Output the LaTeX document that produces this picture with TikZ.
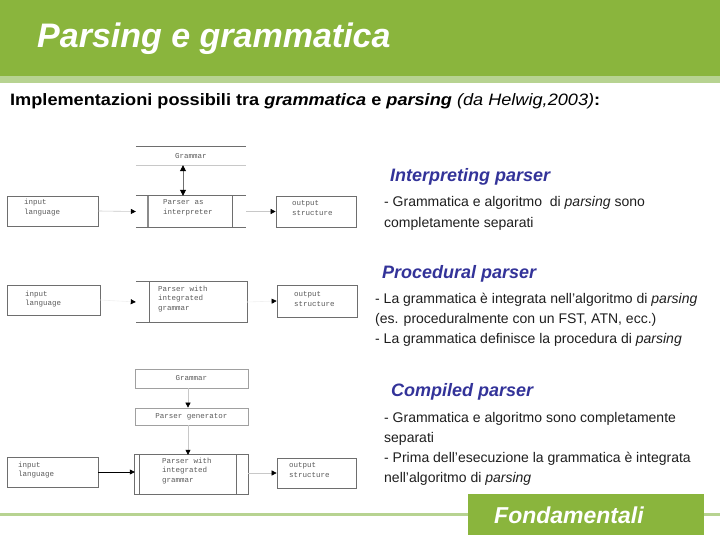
\documentclass[tikz,border=0pt]{standalone}
\usepackage{fontspec}
\usepackage{graphicx}
\setmainfont{Liberation Sans}
\setmonofont{Liberation Mono}
\usetikzlibrary{arrows.meta}
\definecolor{hdrgreen}{RGB}{138,181,61}
\definecolor{lightgreen}{RGB}{183,211,145}
\definecolor{darkblue}{RGB}{51,51,153}
\definecolor{bodytxt}{RGB}{30,30,30}
\definecolor{boxline}{RGB}{110,110,110}
\definecolor{faintline}{RGB}{200,200,200}
\definecolor{monotxt}{RGB}{90,90,90}
\tikzset{
  box/.style={draw=boxline, line width=0.7pt, inner sep=0pt},
  openbox/.style={draw=none, inner sep=0pt},
  edge/.style={boxline, line width=0.7pt},
  mono/.style={font=\fontsize{7.5}{9.5}\selectfont\ttfamily, text=monotxt, anchor=base west, align=left, inner sep=0pt},
  monoc/.style={font=\fontsize{7.5}{9.5}\selectfont\ttfamily, text=monotxt, inner sep=0pt},
  conn/.style={faintline, line width=0.6pt, -{Triangle[length=5pt,width=5pt,color=black]}},
  connpale/.style={black!6, line width=0.6pt, -{Triangle[length=5pt,width=5pt,color=black]}},
  conndark/.style={black, line width=0.7pt, -{Triangle[length=5pt,width=5pt,color=black]}},
  heading/.style={font=\fontsize{18}{21}\selectfont\bfseries\itshape, text=darkblue, anchor=base west, inner sep=0pt},
  body/.style={font=\fontsize{14}{20.5}\selectfont, text=bodytxt, anchor=base west, inner sep=0pt},
}
\begin{document}
\begin{tikzpicture}[x=1pt,y=-1pt]
\useasboundingbox (0,0) rectangle (720,540);
% header
\fill[hdrgreen] (0,0) rectangle (720,76);
\fill[lightgreen] (0,76) rectangle (720,83);
\node[anchor=base west, inner sep=0pt, text=white, font=\fontsize{34}{38}\selectfont\bfseries\itshape] (title) at (37,48) {Parsing e grammatica};
\node[anchor=base west, inner sep=0pt, font=\fontsize{16.5}{19}\selectfont\bfseries] (subtitle) at (10,106) {\scalebox{1.1}[1]{Implementazioni possibili tra \textit{grammatica} e \textit{parsing} {\mdseries\itshape (da Helwig,2003)}:}};

% ---------- Diagram 1: interpreting parser ----------
\node[openbox, minimum width=110pt, minimum height=18pt] (g1) at (191,156) {};
\draw[boxline, line width=1pt] (g1.north west) -- (g1.north east);
\draw[faintline, line width=0.7pt] (g1.south west) -- (g1.south east);
\node[monoc] (g1t) at (g1.center) {Grammar};
\node[openbox, minimum width=110pt, minimum height=31pt] (p1) at (191,211.5) {};
\draw[edge] (p1.north west) -- (p1.north east);
\draw[edge] (p1.south west) -- (p1.south east);
\draw[boxline!80, line width=1.2pt] (148,196) -- (148,227);
\draw[edge] (232,196) -- (232,227);
\node[mono] (p1t) at (163,214.5) {Parser as\\interpreter};
\node[box, minimum width=91pt, minimum height=30pt] (in1) at (52.5,211) {};
\node[mono] (in1t) at (24,214.5) {input\\language};
\node[box, minimum width=80pt, minimum height=31pt] (out1) at (316,211.5) {};
\node[mono] (out1t) at (292,215.5) {output\\structure};
\draw[boxline, line width=0.8pt, {Triangle[length=6pt,width=6pt,color=black]}-{Triangle[length=6pt,width=6pt,color=black]}] ([xshift=-8pt]g1.south) -- ([xshift=-8pt]p1.north);
\draw[conn] (in1.east) -- (p1.west);
\draw[conn] (p1.east) -- (out1.west);

% ---------- Diagram 2: procedural parser ----------
\node[box, minimum width=93pt, minimum height=30pt] (in2) at (53.5,300) {};
\node[mono] (in2t) at (25,305.5) {input\\language};
\node[openbox, minimum width=111pt, minimum height=40pt] (p2) at (191.5,302) {};
\draw[edge] (p2.north west) -- (p2.north east) -- (p2.south east) -- (p2.south west);
\draw[edge] (149,282) -- (149,322);
\node[mono] (p2t) at (158,310) {Parser with\\integrated\\grammar};
\node[box, minimum width=80pt, minimum height=32pt] (out2) at (317,301) {};
\node[mono] (out2t) at (294,306) {output\\structure};
\draw[connpale] (in2.east) -- (p2.west);
\draw[connpale] (p2.east) -- (out2.west);

% ---------- Diagram 3: compiled parser ----------
\node[box, draw=faintline!80!black, minimum width=113pt, minimum height=19pt] (g3) at (191.5,378.5) {};
\node[monoc] (g3t) at (g3.center) {Grammar};
\node[box, draw=faintline!80!black, minimum width=113pt, minimum height=17pt] (pg3) at (191.5,416.5) {};
\node[monoc] (pg3t) at (pg3.center) {Parser generator};
\node[openbox, minimum width=113pt, minimum height=39pt] (p3) at (191.5,474.5) {};
\draw[edge] (p3.north west) rectangle (p3.south east);
\draw[edge] (139,455) -- (139,494);
\draw[edge] (236,455) -- (236,494);
\node[mono] (p3t) at (162,482) {Parser with\\integrated\\grammar};
\node[box, minimum width=91pt, minimum height=30pt] (in3) at (52.5,472) {};
\node[mono] (in3t) at (18,476.5) {input\\language};
\node[box, minimum width=79pt, minimum height=30pt] (out3) at (316.5,473) {};
\node[mono] (out3t) at (289,477) {output\\structure};
\draw[conn] ([xshift=-3.5pt]g3.south) -- ([xshift=-3.5pt]pg3.north);
\draw[conn] ([xshift=-3.5pt]pg3.south) -- ([xshift=-3.5pt]p3.north);
\draw[conndark] (in3.east) -- (in3.east -| p3.west);
\draw[conn] (p3.east |- out3.west) -- (out3.west);

% ---------- right-hand text ----------
\node[heading] (h1) at (390,182) {Interpreting parser};
\node[body] (b1a) at (384,207) {- Grammatica e algoritmo\ \ di \textit{parsing} sono};
\node[body] (b1b) at (384,227) {completamente separati};
\node[heading] (h2) at (382,278) {Procedural parser};
\node[body] (b2a) at (375,303) {- La grammatica è integrata nell'algoritmo di \textit{parsing}};
\node[body] (b2b) at (375,323) {(es. proceduralmente con un FST, ATN, ecc.)};
\node[body] (b2c) at (375,343) {- La grammatica definisce la procedura di \textit{parsing}};
\node[heading] (h3) at (391,396) {Compiled parser};
\node[body] (b3a) at (384,422) {- Grammatica e algoritmo sono completamente};
\node[body] (b3b) at (384,442) {separati};
\node[body] (b3c) at (384,462) {- Prima dell'esecuzione la grammatica è integrata};
\node[body] (b3d) at (384,482) {nell'algoritmo di \textit{parsing}};

% ---------- footer ----------
\draw[lightgreen, line width=3pt] (0,514) -- (720,514);
\fill[hdrgreen] (468,494) rectangle (704,535);
\node[anchor=base west, inner sep=0pt, text=white, font=\fontsize{23}{26}\selectfont\bfseries\itshape] (foot) at (494,523) {Fondamentali};
\end{tikzpicture}
\end{document}
